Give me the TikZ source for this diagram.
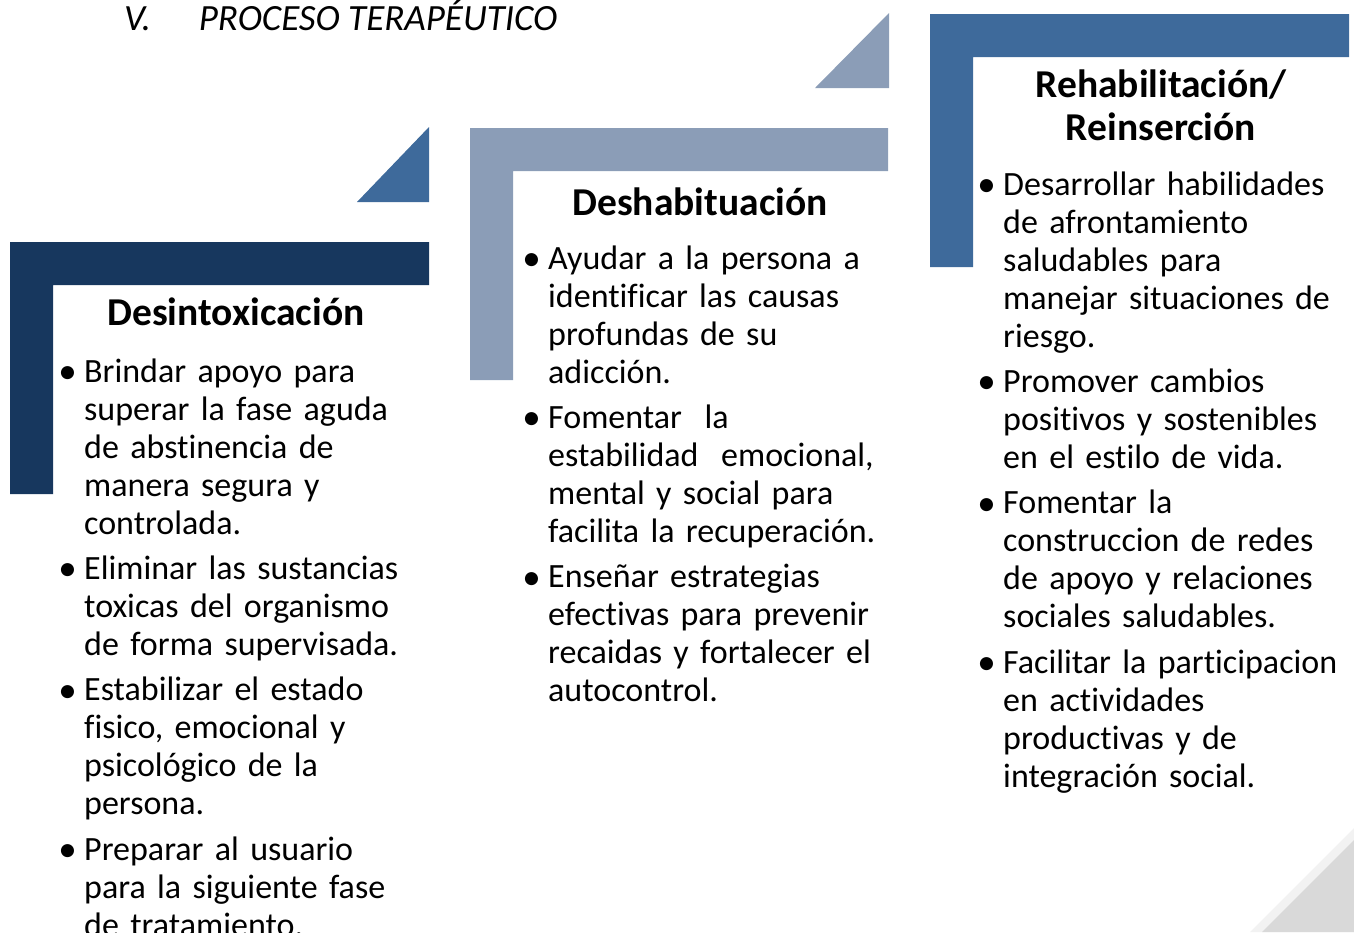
\documentclass[tikz,border=0pt]{standalone}
\usepackage{fontspec}
\setmainfont{Carlito}[Ligatures=NoCommon]
\usetikzlibrary{positioning}

\definecolor{navy}{HTML}{17375E}
\definecolor{midblue}{HTML}{3E6A9B}
\definecolor{grayblue}{HTML}{8B9DB7}
\newcommand{\bul}{\strut\llap{\raisebox{-1.5pt}{\fontsize{37}{38}\selectfont\textbullet}\hspace{7.5pt}}}

\begin{document}
\begin{tikzpicture}[x=1pt, y=-1pt,
    head/.style={anchor=base, inner sep=0, align=center, font=\fontsize{39.5}{42.5}\bfseries\selectfont},
    item/.style={anchor=base west, inner sep=0, text width=340pt, align=left, font=\fontsize{34}{38}\selectfont}]
        \useasboundingbox (0,0) rectangle (1354,932);

        % corner shapes
        \fill[navy] (10,242) -- (429,242) -- (429,285) -- (53,285) -- (53,494) -- (10,494) -- cycle;
        \fill[grayblue] (470,128) -- (888,128) -- (888,171) -- (513,171) -- (513,380) -- (470,380) -- cycle;
        \fill[midblue] (930,14) -- (1349,14) -- (1349,57) -- (973,57) -- (973,267) -- (930,267) -- cycle;
        \fill[midblue] (357,202) -- (429,202) -- (429,127) -- cycle;
        \fill[grayblue] (815,88) -- (889,88) -- (889,13) -- cycle;
        \fill[black!5] (1250,932) -- (1354,828) -- (1354,932) -- cycle;
        \fill[black!15] (1262,932) -- (1354,840) -- (1354,932) -- cycle;

        \node (title) [anchor=base west, inner sep=0, font=\fontsize{37}{40}\itshape\selectfont] at (124,30)
            {V.\hspace{48pt}PROCESO TERAPÉUTICO};

        % Desintoxicacion
        \node (h1) [head] at (236,325) {Desintoxicación};
        \node (d1) [item] at (84,382) {\bul Brindar apoyo para\\superar la fase aguda\\de abstinencia de\\manera segura y\\controlada.\strut};
        \node (d2) [item, below=7pt of d1.south west, anchor=north west] {\bul Eliminar las sustancias\\toxicas del organismo\\de forma supervisada.\strut};
        \node (d3) [item, below=7pt of d2.south west, anchor=north west] {\bul Estabilizar el estado\\fisico, emocional y\\psicológico de la\\persona.\strut};
        \node (d4) [item, below=7pt of d3.south west, anchor=north west] {\bul Preparar al usuario\\para la siguiente fase\\de tratamiento.\strut};

        % Deshabituacion
        \node (h2) [head] at (700,215) {Deshabituación};
        \node (e1) [item] at (548,269) {\bul Ayudar a la persona a\\identificar las causas\\profundas de su\\adicción.\strut};
        \node (e2) [item, below=7pt of e1.south west, anchor=north west] {\bul Fomentar\ \ la\\estabilidad\ \ emocional,\\mental y social para\\facilita la recuperación.\strut};
        \node (e3) [item, below=7pt of e2.south west, anchor=north west] {\bul Enseñar estrategias\\efectivas para prevenir\\recaidas y fortalecer el\\autocontrol.\strut};

        % Rehabilitacion / Reinsercion
        \node (h3) [head] at (1161,140) {Rehabilitación/\\Reinserción};
        \node (r1) [item] at (1003,195) {\bul Desarrollar habilidades\\de afrontamiento\\saludables para\\manejar situaciones de\\riesgo.\strut};
        \node (r2) [item, below=7pt of r1.south west, anchor=north west] {\bul Promover cambios\\positivos y sostenibles\\en el estilo de vida.\strut};
        \node (r3) [item, below=7pt of r2.south west, anchor=north west] {\bul Fomentar la\\construccion de redes\\de apoyo y relaciones\\sociales saludables.\strut};
        \node (r4) [item, below=7pt of r3.south west, anchor=north west] {\bul Facilitar la participacion\\en actividades\\productivas y de\\integración social.\strut};
    \end{tikzpicture}
\end{document}
